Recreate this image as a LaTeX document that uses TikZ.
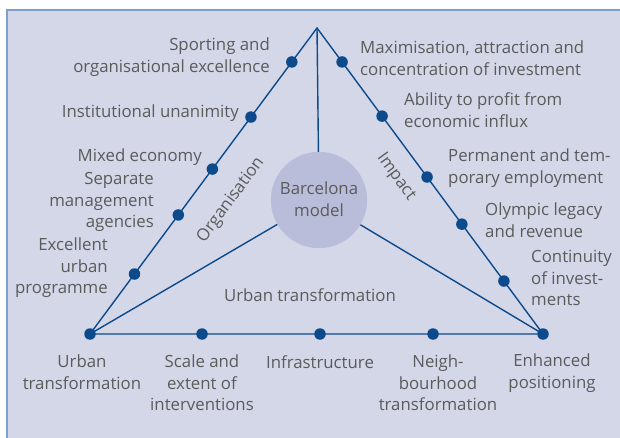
\documentclass[tikz,border=0pt]{standalone}
\usepackage{fontspec}
\setmainfont{Open Sans}
\usetikzlibrary{calc}
\definecolor{panel}{HTML}{D4D7E8}
\definecolor{frame}{HTML}{7F9FCB}
\definecolor{navy}{HTML}{0D4A8C}
\definecolor{disc}{HTML}{BABDD9}
\definecolor{ink}{HTML}{5B5B5B}
\tikzset{
  edge/.style={draw=navy,line width=1.4pt},
  dot/.style={circle,fill=navy,inner sep=0pt,minimum size=11.5pt},
  lbl/.style={text=ink,font=\fontsize{16.8}{21.5}\selectfont,inner sep=0pt},
  lbll/.style={lbl,align=right,anchor=east},
  lblr/.style={lbl,align=left,anchor=west},
  lblb/.style={lbl,align=center,anchor=north},
}
\begin{document}
\begin{tikzpicture}[x=1pt,y=-1pt]
\useasboundingbox (0,0) rectangle (620,438);
\clip (0,0) rectangle (620,438);
\filldraw[fill=panel,draw=frame,line width=1.2pt] (7,10) rectangle (630,450);
% corners of the triangle
\coordinate (top) at (317,28);
\coordinate (lft) at (90,334);
\coordinate (rgt) at (543,334);
\node[circle,fill=disc,minimum size=96pt,inner sep=0pt] (model) at (319,200) {};
\draw[edge] (top) -- (lft) -- (rgt) -- cycle;
\draw[edge] (top) -- (model);
\draw[edge] (lft) -- (model);
\draw[edge] (rgt) -- (model);
\node[circle,fill=disc,minimum size=96pt,inner sep=0pt] at (model) {};
\node[lbl,align=center] (modeltxt) at (319,199) {Barcelona\\model};
% dots on the sides
\node[dot] (o1) at ($(top)!0.111!(lft)$) {};
\node[dot] (o2) at ($(top)!0.291!(lft)$) {};
\node[dot] (o3) at ($(top)!0.461!(lft)$) {};
\node[dot] (o4) at ($(top)!0.611!(lft)$) {};
\node[dot] (o5) at ($(top)!0.804!(lft)$) {};
\node[dot] (i1) at ($(top)!0.111!(rgt)$) {};
\node[dot] (i2) at ($(top)!0.288!(rgt)$) {};
\node[dot] (i3) at ($(top)!0.487!(rgt)$) {};
\node[dot] (i4) at ($(top)!0.641!(rgt)$) {};
\node[dot] (i5) at ($(top)!0.827!(rgt)$) {};
\node[dot] (c1) at (lft) {};
\node[dot] (c2) at (rgt) {};
\node[dot] (u1) at (202,334) {};
\node[dot] (u2) at (320,334) {};
\node[dot] (u3) at (433,334) {};
% left labels
\node[lbll] (so) at (270,57) {Sporting and\\organisational excellence};
\node[lbll] (iu) at (239,113) {Institutional unanimity};
\node[lbll] (me) at (202,157) {Mixed economy};
\node[lbll] (sm) at (154,202) {Separate\\management\\agencies};
\node[lbll] (eu) at (108,268) {Excellent\\urban\\programme};
% right labels
\node[lblr] (ma) at (360,58) {Maximisation, attraction and\\concentration of investment};
\node[lblr] (ap) at (404,110) {Ability to profit from\\economic influx};
\node[lblr] (pe) at (448,168) {Permanent and tem-\\porary employment};
\node[lblr] (ol) at (485,220) {Olympic legacy\\and revenue};
\node[lblr] (ci) at (531,278) {Continuity\\of invest-\\ments};
% bottom labels
\node[lblb] (ut) at (82,355) {Urban\\transformation};
\node[lblb] (se) at (202,355) {Scale and\\extent of\\interventions};
\node[lblb] (in) at (320,355) {Infrastructure};
\node[lblb] (nt) at (438,355) {Neigh-\\bourhood\\transformation};
\node[lblb] (ep) at (552,354) {Enhanced\\positioning};
% side titles
\node[lbl,rotate=53.5] (org) at (231,200) {Organisation};
\node[lbl,rotate=-54] (imp) at (396,177) {Impact};
\node[lbl] (urb) at (310,295) {Urban transformation};
\end{tikzpicture}
\end{document}
